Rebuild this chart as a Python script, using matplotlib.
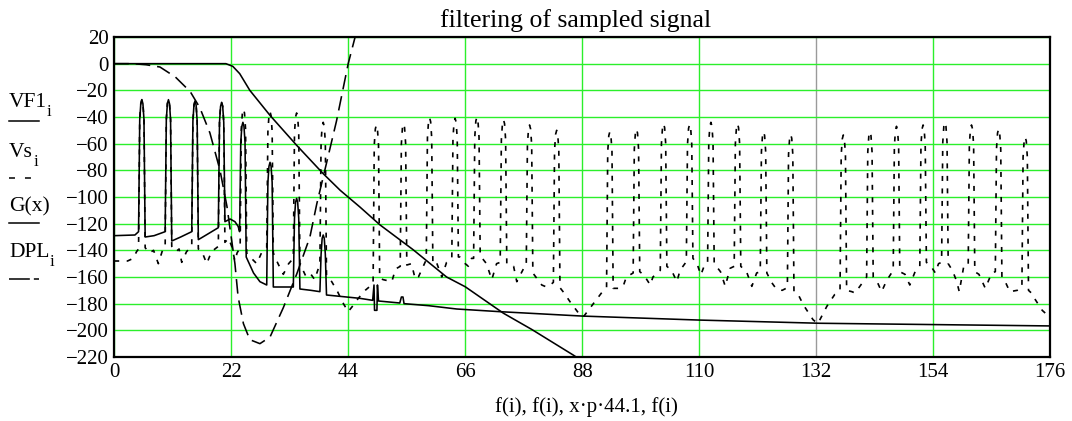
import matplotlib
matplotlib.use("Agg")
import matplotlib.pyplot as plt
from matplotlib.lines import Line2D

plt.rcParams['font.family'] = ['Liberation Serif', 'DejaVu Serif']
plt.rcParams['lines.scale_dashes'] = False
plt.rcParams['axes.unicode_minus'] = True

W, H = 1072, 421

# ---- values ----
x_ticks = [0, 22, 44, 66, 88, 110, 132, 154, 176]
y_ticks = [20, 0, -20, -40, -60, -80, -100, -120, -140, -160, -180, -200, -220]

# VF1_i : filtered signal (solid)
vf1_f = [0, 3.9, 4.58, 4.8, 5.0, 5.2, 5.4, 5.6, 5.82, 7.5,
         9.58, 9.8, 10.0, 10.2, 10.4, 10.6, 10.82, 12.5,
         14.58, 14.8, 15.0, 15.2, 15.4, 15.6, 15.82, 17.5,
         19.58, 19.8, 20.0, 20.2, 20.4, 20.6, 20.82, 21.8, 22.7, 23.3,
         23.58, 23.8, 24.0, 24.2, 24.4, 24.6, 24.82, 26.2, 27.4,
         28.68, 28.9, 29.1, 29.3, 29.5, 29.7, 29.92, 31.8,
         33.68, 33.9, 34.1, 34.3, 34.5, 34.7, 34.92, 37.0,
         38.68, 38.9, 39.1, 39.3, 39.5, 39.7, 39.92, 46.2,
         48.6, 48.85, 48.95, 49.4, 49.5, 49.7, 53.7, 54.0, 54.3, 54.5,
         59.1, 64.4, 72.5, 88.0, 110.0, 132.7, 176.0]
vf1_db = [-129, -128.5, -126, -42, -30, -27, -30, -42, -130, -129,
          -126, -42, -30, -27, -30, -42, -133, -130,
          -126, -43, -31, -28, -31, -43, -132, -128,
          -123, -44, -32, -29, -32, -44, -118.5, -116.5, -118.5, -122,
          -126, -59, -47, -44, -47, -59, -145, -157, -163.5,
          -166, -89, -77, -74, -77, -89, -167.5, -167.5,
          -167.5, -116, -104, -101, -104, -116, -169, -170,
          -171, -143, -131, -128.5, -131, -143, -173.5, -176,
          -177.5, -166, -185, -185, -166, -178, -179.5, -175, -175, -180,
          -181.5, -184, -186, -189.3, -192.3, -194.7, -196.7]

# Vs_i : sampled signal (short dashes)
vs_f = [0, 2.5, 3.6, 4.2,
        4.58, 4.8, 5.0, 5.2, 5.4, 5.6, 5.82, 6.6, 7.4, 8.3, 9.0,
        9.58, 9.8, 10.0, 10.2, 10.4, 10.6, 10.82, 11.6, 12.2, 12.7, 13.6,
        14.58, 14.8, 15.0, 15.2, 15.4, 15.6, 15.82, 16.5, 17.4, 18.3,
        19.58, 19.8, 20.0, 20.2, 20.4, 20.6, 20.82, 21.5, 22.1, 22.7, 23.1,
        23.68, 23.9, 24.1, 24.3, 24.5, 24.7, 24.92, 25.8, 26.8, 27.8,
        28.68, 28.9, 29.1, 29.3, 29.5, 29.7, 29.92, 30.8, 31.8, 32.8,
        33.68, 33.9, 34.1, 34.3, 34.5, 34.7, 34.92, 36.1, 37.0, 37.7,
        38.68, 38.9, 39.1, 39.3, 39.5, 39.7, 39.92,
        40.9, 42.0, 43.1, 44.0, 45.0, 45.9, 47.2,
        48.68, 48.9, 49.1, 49.3, 49.5, 49.7, 49.92, 50.6, 52.2, 52.9,
        53.78, 54.0, 54.2, 54.4, 54.6, 54.8, 55.02, 55.9, 56.6, 57.2,
        58.68, 58.9, 59.1, 59.3, 59.5, 59.7, 59.92, 60.6, 61.6, 62.5,
        63.48, 63.7, 63.9, 64.1, 64.3, 64.5, 64.72, 65.0, 66.0, 66.6, 67.2,
        67.58, 67.8, 68.0, 68.2, 68.4, 68.6, 68.82, 70.0, 71.0, 71.9,
        72.58, 72.8, 73.0, 73.2, 73.4, 73.6, 73.82, 75.1, 75.7, 77.0,
        77.48, 77.7, 77.9, 78.1, 78.3, 78.5, 78.72, 80.4, 81.3, 82.0,
        82.58, 82.8, 83.0, 83.2, 83.4, 83.6, 83.82, 84.6, 85.7, 87.3, 88.2,
        90.1, 92.0,
        92.58, 92.8, 93.0, 93.2, 93.4, 93.6, 93.82, 94.8, 95.7, 96.3,
        97.58, 97.8, 98.0, 98.2, 98.4, 98.6, 98.82, 99.6, 100.8, 101.3,
        102.68, 102.9, 103.1, 103.3, 103.5, 103.7, 103.92, 104.8, 105.8, 106.4,
        107.58, 107.8, 108.0, 108.2, 108.4, 108.6, 108.82, 109.6, 110.3, 111.1,
        111.58, 111.8, 112.0, 112.2, 112.4, 112.6, 112.82, 114.0, 114.9, 115.8,
        116.58, 116.8, 117.0, 117.2, 117.4, 117.6, 117.82, 118.9, 119.9, 120.8,
        121.48, 121.7, 121.9, 122.1, 122.3, 122.5, 122.72, 123.6, 124.5, 125.6,
        126.58, 126.8, 127.0, 127.2, 127.4, 127.6, 127.82, 128.6, 129.6, 131.4, 132.3,
        132.7, 134.0, 135.5,
        136.48, 136.7, 136.9, 137.1, 137.3, 137.5, 137.72, 138.7, 139.3, 140.2,
        141.48, 141.7, 141.9, 142.1, 142.3, 142.5, 142.72, 143.4, 144.3, 145.2,
        146.48, 146.7, 146.9, 147.1, 147.3, 147.5, 147.72, 148.7, 149.6, 150.6,
        151.48, 151.7, 151.9, 152.1, 152.3, 152.5, 152.72, 153.6, 154.4, 155.0,
        155.58, 155.8, 156.0, 156.2, 156.4, 156.6, 156.82, 157.6, 158.4, 158.9, 159.7,
        160.58, 160.8, 161.0, 161.2, 161.4, 161.6, 161.82, 162.6, 163.8, 165.0,
        165.68, 165.9, 166.1, 166.3, 166.5, 166.7, 166.92, 167.6, 168.4, 169.8,
        170.68, 170.9, 171.1, 171.3, 171.5, 171.7, 171.92, 172.6, 173.2, 174.5, 175.6]
vs_db = [-148, -148, -146, -141,
         -139, -42, -30, -27, -30, -42, -138, -142, -140, -150, -141,
         -138, -42, -30, -27, -30, -42, -137, -141, -139, -149, -141,
         -137, -43, -31, -28, -31, -43, -139, -141, -150, -141,
         -137, -44, -32, -29, -32, -44, -134, -131, -137, -148, -142,
         -138, -49, -37, -34, -37, -49, -142, -146, -150, -141,
         -138, -51, -39, -36, -39, -51, -142, -150, -158, -150,
         -146, -52, -40, -37, -40, -52, -150, -160, -158, -162,
         -150, -59, -47, -44, -47, -59, -159,
         -163.5, -171, -180, -186, -181, -176, -170,
         -165, -61, -49, -46, -49, -61, -161, -162, -163.5, -154,
         -152, -60, -48, -45, -48, -60, -151, -150, -161.5, -160,
         -147, -55.5, -43.5, -40.5, -43.5, -55.5, -150, -149, -160, -149,
         -146, -56, -44, -41, -44, -56, -145, -145, -150, -152, -146,
         -146, -55, -43, -40, -43, -55, -144, -150, -162, -150,
         -149, -57, -45, -42, -45, -57, -150, -152, -163.5, -153.5,
         -152, -61, -49, -46, -49, -61, -157, -166, -167.5, -166,
         -164, -65, -53, -50, -53, -65, -168, -172, -178.5, -187, -190,
         -180, -170,
         -168, -66, -54, -51, -54, -66, -168.5, -168.5, -167, -160,
         -157, -64, -52, -49, -52, -64, -156, -158.5, -166, -160,
         -155, -60, -48, -45, -48, -60, -152, -155, -163.5, -155,
         -148.5, -60.5, -48.5, -45.5, -48.5, -60.5, -146, -150, -158.5, -150,
         -149, -59, -47, -44, -47, -59, -150, -156, -167, -153.5,
         -152, -60, -48, -45, -48, -60, -152, -156, -167, -157,
         -156, -66, -54, -51, -54, -66, -157, -164, -169, -170,
         -168, -68, -56, -53, -56, -68, -171, -173, -181, -192, -195,
         -192, -182, -173,
         -170, -68.5, -56.5, -53.5, -56.5, -68.5, -170, -171, -172, -167,
         -160, -66, -54, -51, -54, -66, -160, -163, -171, -163,
         -155, -62, -50, -47, -50, -62, -156, -158, -166, -156,
         -152, -61, -49, -46, -49, -61, -149, -152, -157, -150,
         -149, -59, -47, -44, -47, -59, -150, -155, -163, -171, -153,
         -152, -61, -49, -46, -49, -61, -156, -158, -168.5, -157,
         -156, -64, -52, -49, -52, -64, -160, -164, -171, -170,
         -168, -70, -58, -55, -58, -70, -170, -172.5, -177, -185, -189]

# G(x) : filter response (solid)
g_f = [0, 21.0, 22.3, 23.6, 25.5, 29.3, 34.3, 39.3, 42.5, 46.2, 50.0,
       56.2, 62.5, 66.0, 73.2, 78.5, 86.3, 88.0]
g_db = [0, 0, -2, -7.5, -20, -38.8, -61.2, -82.5, -95, -107.5, -121,
        -139.5, -160, -167.3, -187.2, -199.3, -218.5, -223]

# DPL_i : long dashes
dpl_f = [0, 3.5, 6.0, 8.6, 11.5, 14.3, 16.1, 18.0, 19.9, 21.2, 22.0, 22.7,
         23.3, 24.3, 25.5, 27.4, 29.3, 31.8, 34.3, 36.8, 38.1, 39.3, 41.8,
         44.0, 45.3]
dpl_db = [0, 0, -0.8, -2.5, -10, -21, -33, -52, -80, -107, -130, -150,
          -175, -195, -207, -210, -205, -183, -158, -130, -105, -85, -43,
          0, 20]

title = "filtering of sampled signal"
x_label = "f(i), f(i), x\u00b7p\u00b744.1, f(i)"

SHORT = (0, (3.6, 5.4))
LONG = (0, (10.5, 5.0))

fig = plt.figure(figsize=(W / 100, H / 100), dpi=100)
ax = fig.add_axes([114.2 / W, 1 - 357 / H, 936 / W, 320 / H])

ax.plot(vf1_f, vf1_db, color='black', lw=1.15, zorder=3)
ax.plot(vs_f, vs_db, color='black', lw=1.2, linestyle=SHORT, zorder=3)
ax.plot(g_f, g_db, color='black', lw=1.15, zorder=3)
ax.plot(dpl_f, dpl_db, color='black', lw=1.15, linestyle=LONG, zorder=3)

ax.set_xlim(0, 176)
ax.set_ylim(-220, 20)
ax.set_xticks(x_ticks)
ax.set_yticks(y_ticks)
ax.tick_params(length=0, labelsize=15, pad=4)
ax.grid(True, color='#2bef2b', lw=1.0)
ax.set_axisbelow(True)
ax.get_xgridlines()[x_ticks.index(132)].set_color('#9a9a9a')
for sp in ax.spines.values():
    sp.set_linewidth(1.6)
    sp.set_zorder(4)


def px(x, y):
    return x / W, 1 - y / H


fig.text(*px(576, 27), title, fontsize=18.5, ha='center', va='baseline')
fig.text(*px(586, 412), x_label, fontsize=15, ha='center', va='baseline')

# stacked legend on the left, Mathcad style
fig.text(*px(9, 107), "VF1", fontsize=15.5, va='baseline')
fig.text(*px(47, 116), "i", fontsize=12, va='baseline')
fig.add_artist(Line2D([9 / W, 39 / W], [1 - 121 / H] * 2, color='black', lw=1.1))

fig.text(*px(9, 157), "Vs", fontsize=15.5, va='baseline')
fig.text(*px(34, 166), "i", fontsize=12, va='baseline')
fig.add_artist(Line2D([9 / W, 31 / W], [1 - 178 / H] * 2, color='black', lw=1.1,
                      linestyle=(0, (4.3, 7.2))))

fig.text(*px(9, 211), "G(x)", fontsize=15.5, va='baseline')
fig.add_artist(Line2D([9 / W, 39 / W], [1 - 223 / H] * 2, color='black', lw=1.1))

fig.text(*px(9, 257), "DPL", fontsize=15.5, va='baseline')
fig.text(*px(50, 266), "i", fontsize=12, va='baseline')
fig.add_artist(Line2D([9 / W, 39 / W], [1 - 279 / H] * 2, color='black', lw=1.1,
                      linestyle=(0, (15.0, 2.9))))

fig.savefig("out.png", dpi=100)
